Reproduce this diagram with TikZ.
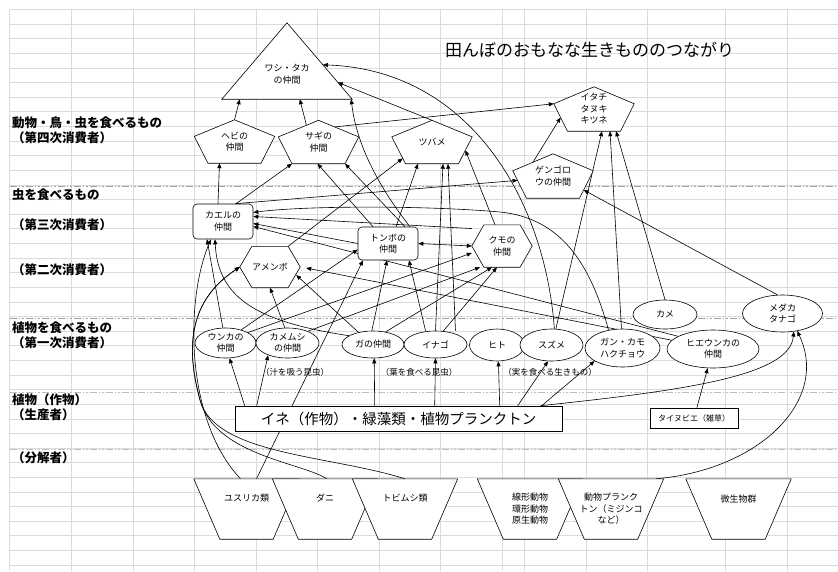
\documentclass[tikz,border=0pt]{standalone}
\usepackage{fontspec}
\setmainfont{Noto Sans CJK JP}
\usetikzlibrary{shapes.geometric, arrows.meta, positioning, calc}

\pgfdeclarelayer{grid}
\pgfdeclarelayer{edges}
\pgfdeclarelayer{frames}
\pgfsetlayers{grid,edges,frames,main}

% outlines drawn round plain nodes
\newcommand\pentframe[1]{%
  \coordinate (#1-t) at (#1.north);
  \coordinate (#1-l) at ($(#1.west)!0.236!(#1.north west)$);
  \coordinate (#1-r) at ($(#1.east)!0.236!(#1.north east)$);
  \coordinate (#1-bl) at ($(#1.south)!0.66!(#1.south west)$);
  \coordinate (#1-br) at ($(#1.south)!0.66!(#1.south east)$);
  \begin{pgfonlayer}{frames}
    \draw[shapeline] (#1-t) -- (#1-l) -- (#1-bl) -- (#1-br) -- (#1-r) -- cycle;
  \end{pgfonlayer}}
\newcommand\hexframe[1]{%
  \begin{pgfonlayer}{frames}
    \draw[shapeline] (#1.west) -- ($(#1.north)!0.6!(#1.north west)$) -- ($(#1.north)!0.6!(#1.north east)$)
      -- (#1.east) -- ($(#1.south)!0.6!(#1.south east)$) -- ($(#1.south)!0.6!(#1.south west)$) -- cycle;
  \end{pgfonlayer}}
\newcommand\trapframe[1]{%
  \begin{pgfonlayer}{frames}
    \draw[shapeline] (#1.north west) -- (#1.north east) -- ([xshift=-26pt]#1.south east)
      -- ([xshift=26pt]#1.south west) -- cycle;
  \end{pgfonlayer}}

\begin{document}
\begin{tikzpicture}[x=1pt, y=-1pt,
  gridline/.style={gray!28, line width=0.7pt},
  sepdark/.style={gray!75, line width=1pt, dash pattern=on 7pt off 2pt on 1.5pt off 2pt on 1.5pt off 2pt},
  seplight/.style={gray!50, line width=1pt, dash pattern=on 7pt off 2pt on 1.5pt off 2pt on 1.5pt off 2pt},
  arr/.style={-{Triangle[length=5pt,width=4pt]}, line width=0.6pt},
  arrboth/.style={{Triangle[length=5pt,width=4pt]}-{Triangle[length=5pt,width=4pt]}, line width=0.6pt},
  shapeline/.style={draw, fill=white, line width=0.6pt},
  small/.style={font=\fontsize{9}{11.5}\selectfont},
  plain/.style={small, inner sep=0pt, align=center},
  pentnode/.style={plain, minimum width=80pt, minimum height=43pt},
  hexnode/.style={plain, minimum width=60pt, minimum height=41pt},
  trapnode/.style={plain, minimum width=105pt, minimum height=60pt},
  oval/.style={ellipse, shapeline, plain},
  rbox/.style={shapeline, plain, rounded corners=4pt, minimum width=60pt, minimum height=34pt},
  side/.style={anchor=west, inner sep=0pt, font=\fontsize{12.5}{14}\selectfont\bfseries},
  note/.style={inner sep=0pt, font=\fontsize{8.5}{10}\selectfont}
]
\useasboundingbox (0,0) rectangle (838,571);

% sheet grid
\begin{pgfonlayer}{grid}
  \fill[white] (0,0) rectangle (838,571);
  \foreach \x in {9.6,71,133,194,256,317,379,440,502,524,586,647,725,787}
    \draw[gridline] (\x,9.5) -- (\x,571);
  \foreach \i in {0,...,38}
    \draw[gridline] (9.6,9.5+\i*14.62) -- (838,9.5+\i*14.62);
  \foreach \y in {186,318}
    \draw[sepdark] (9.6,\y) -- (838,\y);
  \foreach \y in {392,449}
    \draw[seplight] (9.6,\y) -- (838,\y);
\end{pgfonlayer}

% level labels
\node[side] (lvfour) at (12,123) {動物・鳥・虫を食べるもの};
\node[side] (lvfourb) at (12,138) {（第四次消費者）};
\node[side] (lvthree) at (12,195) {虫を食べるもの};
\node[side] (lvthreeb) at (12,225) {（第三次消費者）};
\node[side] (lvtwo) at (12,270) {（第二次消費者）};
\node[side] (lvone) at (12,328) {植物を食べるもの};
\node[side] (lvoneb) at (12,343) {（第一次消費者）};
\node[side] (lvprod) at (12,400) {植物（作物）};
\node[side] (lvprodb) at (12,415) {（生産者）};
\node[side] (lvdec) at (12,458) {（分解者）};

\node[anchor=west, inner sep=0pt, font=\fontsize{17}{20}\selectfont] (title) at (445,50) {田んぼのおもなな生きもののつながり};

% top of the chain
\node[plain, minimum width=130pt, minimum height=76pt,
      label={[plain, yshift=-13pt]center:ワシ・タカ\\の仲間}] (washi) at (287,61) {};
\begin{pgfonlayer}{frames}
  \draw[shapeline] (washi.north) -- (washi.south west) -- (washi.south east) -- cycle;
\end{pgfonlayer}
\node[pentnode] (hebi) at (234.5,141.5) {ヘビの\\仲間};
\node[pentnode] (sagi) at (318.5,142) {サギの\\仲間};
\node[pentnode] (tsubame) at (432,142) {ツバメ};
\node[pentnode, minimum height=44pt] (itachi) at (594,109) {イタチ\\タヌキ\\キツネ};
\node[pentnode, minimum height=44pt] (gengoro) at (553,176) {ゲンゴロ\\ウの仲間};
\pentframe{hebi}
\pentframe{sagi}
\pentframe{tsubame}
\pentframe{itachi}
\pentframe{gengoro}

% insect eaters
\node[rbox, minimum height=35pt] (kaeru) at (223,221.5) {カエルの\\仲間};
\node[rbox, minimum height=33pt] (tonbo) at (388,243.5) {トンボの\\仲間};
\node[hexnode] (amenbo) at (270,267) {アメンボ};
\node[hexnode, minimum height=42pt] (kumo) at (502,246) {クモの\\仲間};
\hexframe{amenbo}
\hexframe{kumo}

% plant eaters
\node[oval, minimum width=61pt, minimum height=30pt] (unka) at (225.5,343) {ウンカの\\仲間};
\node[oval, minimum width=63pt, minimum height=30pt] (kamemushi) at (287.5,343) {カメムシ\\の仲間};
\node[oval, minimum width=62pt, minimum height=27pt] (ga) at (373,344.5) {ガの仲間};
\node[oval, minimum width=63pt, minimum height=27pt] (inago) at (435.5,344.5) {イナゴ};
\node[oval, minimum width=55pt, minimum height=32pt] (hito) at (497,345) {ヒト};
\node[oval, minimum width=63pt, minimum height=32pt] (suzume) at (551.5,345) {スズメ};
\node[oval, minimum width=75pt, minimum height=38pt] (gankamo) at (622.5,348) {ガン・カモ\\ハクチョウ};
\node[oval, minimum width=92pt, minimum height=38pt] (hieunka) at (713,349) {ヒエウンカの\\仲間};
\node[oval, minimum width=64pt, minimum height=29pt] (kame) at (665,314.5) {カメ};
\node[oval, minimum width=80pt, minimum height=37pt] (medaka) at (782.5,313.5) {メダカ\\タナゴ};

\node[note] (shiru) at (295,372) {（汁を吸う昆虫）};
\node[note] (ha) at (419,372) {（葉を食べる昆虫）};
\node[note] (mi) at (550,372) {（実を食べる生きもの）};

% producers
\node[shapeline, minimum width=327pt, minimum height=25pt, inner sep=0pt,
      font=\fontsize{14.5}{16}\selectfont] (ine) at (398.5,418.5) {イネ（作物）・緑藻類・植物プランクトン};
\node[shapeline, minimum width=88pt, minimum height=20pt, inner sep=0pt,
      font=\fontsize{8}{10}\selectfont] (tainubie) at (694,418) {タイヌビエ（雑草）};

% decomposers
\node[trapnode, label={[plain, yshift=11pt]center:ユスリカ類}] (yusurika) at (246.5,509) {};
\node[trapnode, label={[plain, yshift=11pt]center:ダニ}] (dani) at (325,509) {};
\node[trapnode, label={[plain, yshift=11pt]center:トビムシ類}] (tobimushi) at (405,509) {};
\node[trapnode] (senkei) at (530,509) {線形動物\\環形動物\\原生動物};
\node[trapnode] (doupura) at (611,509) {動物プランク\\トン（ミジンコ\\など）};
\node[trapnode, label={[plain, yshift=10pt]center:微生物群}] (bisei) at (738.5,509) {};
\trapframe{yusurika}
\trapframe{dani}
\trapframe{tobimushi}
\trapframe{senkei}
\trapframe{doupura}
\trapframe{bisei}

\begin{pgfonlayer}{edges}
  % producers up
  \draw[arr] ([xshift=10pt]ine.north west) -- (unka.-75);
  \draw[arr] ([xshift=22pt]ine.north west) -- (kamemushi.-148);
  \draw[arr] ([xshift=140pt]ine.north west) -- (ga.-85);
  \draw[arr] ([xshift=200pt]ine.north west) -- (inago.-90);
  \draw[arr] ([xshift=265pt]ine.north west) -- (hito.-85);
  \draw[arr] ([xshift=283pt]ine.north west) -- (suzume.-102);
  \draw[arr] ([xshift=307pt]ine.north west) -- (gankamo.-155);
  \draw[arr] (tainubie) -- (hieunka);
  \draw[arr] ([xshift=-22pt]ine.north east) .. controls (690,390) and (790,375) .. (medaka.-58);
  \draw[arr] ([xshift=-8pt]doupura.north east) .. controls (760,470) and (830,400) .. (medaka.-50);
  % frogs
  \draw[arr] (unka.100) -- ([xshift=-16pt]kaeru.south);
  \draw[arr] ([xshift=-6pt]yusurika.north) .. controls (185,420) and (185,300) .. ([xshift=-12pt]kaeru.south);
  \draw[arr] (ga.160) .. controls (260,322) and (218,300) .. ([xshift=-8pt]kaeru.south);
  \draw[arr] (tonbo.west) -- ([yshift=-2pt]kaeru.east);
  \draw[arr] (kumo.150) -- ([yshift=5pt]kaeru.east);
  \draw[arr] (hieunka.160) -- ([yshift=-5pt]kaeru.east);
  \draw[arr] (gankamo.128) .. controls (590,262) and (560,218) .. (500,212)
    .. controls (420,205) and (300,206) .. ([yshift=9pt]kaeru.east);
  % top of the chain
  \draw[arr] ([xshift=-5pt]kaeru.north) -- ([xshift=-15pt]hebi.south);
  \draw[arr] ([xshift=13pt]kaeru.north) -- (sagi-bl);
  \draw[arr] ([xshift=12pt]kaeru.north) -- ($(gengoro-l)!0.35!(gengoro-bl)$);
  \draw[arr] (hebi.north) -- ([xshift=18pt]washi.south west);
  \draw[arr] ($(sagi-t)!0.3!(sagi-l)$) -- ([xshift=78pt]washi.south west);
  \draw[arr] ([xshift=-15pt]tonbo.north) -- ([xshift=-1pt]sagi.south);
  \draw[arr] ([xshift=17pt]tonbo.north) -- (sagi-br);
  \draw[arr] ([xshift=22pt]tonbo.north) .. controls (385,195) and (357,150) .. ([xshift=-1pt]washi.south east);
  \draw[arr] (tsubame-t) -- ($(washi.north)!0.78!(washi.south east)$);
  \draw[arr] (suzume.80) .. controls (545,200) and (470,70) .. ($(washi.north)!0.55!(washi.south east)$);
  % weasels, diving beetles
  \draw[arr] ($(sagi-t)!0.4!(sagi-r)$) -- (itachi-l);
  \draw[arr] ($(gengoro-t)!0.5!(gengoro-l)$) -- ($(itachi-l)!0.5!(itachi-bl)$);
  \draw[arr] (suzume.75) -- ([xshift=8pt]itachi.south);
  \draw[arr] (gankamo.93) -- ([xshift=16pt]itachi.south);
  \draw[arr] (kame.north) -- ([xshift=22pt]itachi.south);
  \draw[arr] (medaka.105) -- ($(gengoro-br)!0.3!(gengoro-r)$);
  % swallows
  \draw[arr] ($(amenbo.north)!0.6!(amenbo.north east)$) -- ($(tsubame-l)!0.8!(tsubame-bl)$);
  \draw[arr] ([xshift=8pt]tonbo.north) -- ([xshift=-14pt]tsubame.south);
  \draw[arr] (inago.north) -- ([xshift=11pt]tsubame.south);
  \draw[arr] ([xshift=20pt]inago.north) -- ([xshift=16pt]tsubame.south);
  \draw[arr] ([xshift=-7pt]kumo.north) -- ($(tsubame-br)!0.5!(tsubame-r)$);
  % dragonflies, spiders, water striders
  \draw[arr] (unka.40) -- ([yshift=-6pt]tonbo.west);
  \draw[arr] ([xshift=10pt]yusurika.north) -- ([xshift=-25pt]tonbo.south);
  \draw[arr] (ga.95) -- ([xshift=-1pt]tonbo.south);
  \draw[arr] ([xshift=-10pt]inago.north) -- ([xshift=21pt]tonbo.south);
  \draw[arrboth] (tonbo.east) -- (kumo.west);
  \draw[arr] (unka.25) -- ([yshift=-7pt]kumo.west);
  \draw[arr] (kamemushi.30) -- ([xshift=-22pt]kumo.south);
  \draw[arr] (ga.45) -- ([xshift=-10pt]kumo.south);
  \draw[arr] (inago.60) -- ([xshift=-5pt]kumo.south);
  \draw[arr] (kamemushi.100) -- (amenbo.south);
  \draw[arr] (ga.140) -- ([xshift=-4pt,yshift=-8pt]amenbo.east);
  \draw[arr] (hieunka.168) -- ([xshift=6pt,yshift=-1pt]amenbo.east);
  \draw[arr] (tobimushi.north) .. controls (330,455) and (215,455) .. (200,400)
    .. controls (185,345) and (190,300) .. (amenbo.west);
  \draw[arr] ([xshift=2pt]dani.north) .. controls (300,462) and (215,455) .. (200,400)
    .. controls (185,345) and (190,300) .. (amenbo.west);
\end{pgfonlayer}
\end{tikzpicture}
\end{document}
